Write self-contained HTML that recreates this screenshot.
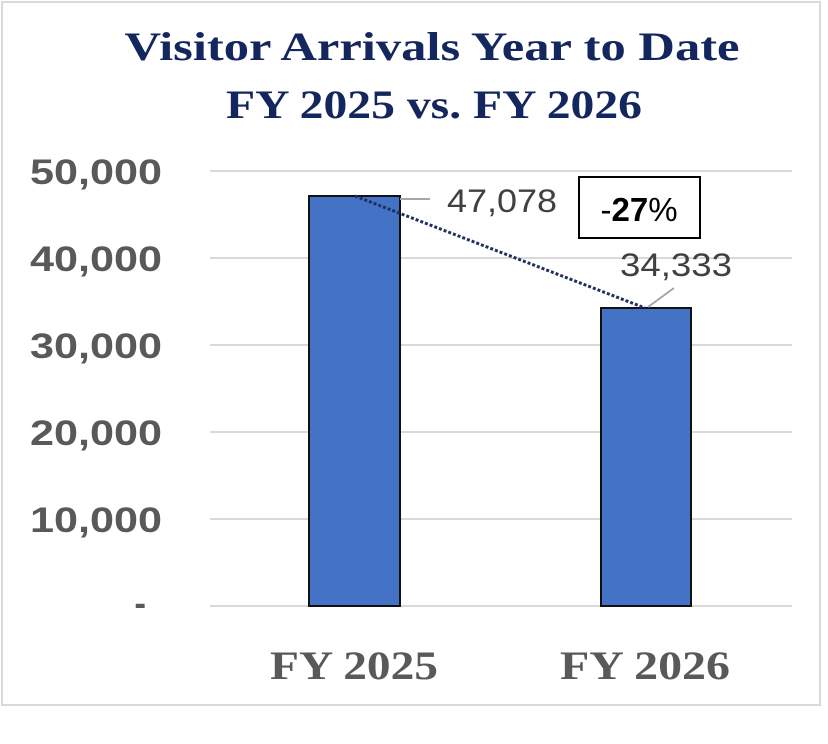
<!DOCTYPE html>
<html><head><style>
html,body{margin:0;padding:0;background:#fff;width:828px;height:744px;overflow:hidden}
</style></head><body>
<svg width="828" height="744" xmlns="http://www.w3.org/2000/svg">
<rect x="2" y="2" width="818" height="703" fill="#fff" stroke="#d9d9d9" stroke-width="2"/>
<text x="432" y="60" text-anchor="middle" font-family="Liberation Serif, serif" font-weight="bold" font-size="40" fill="#14265e" textLength="615" lengthAdjust="spacingAndGlyphs">Visitor Arrivals Year to Date</text>
<text x="434" y="118" text-anchor="middle" font-family="Liberation Serif, serif" font-weight="bold" font-size="40" fill="#14265e" textLength="416" lengthAdjust="spacingAndGlyphs">FY 2025 vs. FY 2026</text>
<g stroke="#d9d9d9" stroke-width="2">
<line x1="210" y1="171" x2="792" y2="171"/>
<line x1="210" y1="258" x2="792" y2="258"/>
<line x1="210" y1="345" x2="792" y2="345"/>
<line x1="210" y1="432" x2="792" y2="432"/>
<line x1="210" y1="519" x2="792" y2="519"/>
<line x1="210" y1="606" x2="792" y2="606"/>
</g>
<g font-family="Liberation Sans, sans-serif" font-weight="bold" font-size="35" fill="#595959" text-anchor="end">
<text x="162" y="184" textLength="132" lengthAdjust="spacingAndGlyphs">50,000</text>
<text x="162" y="271" textLength="132" lengthAdjust="spacingAndGlyphs">40,000</text>
<text x="162" y="358" textLength="132" lengthAdjust="spacingAndGlyphs">30,000</text>
<text x="162" y="445" textLength="132" lengthAdjust="spacingAndGlyphs">20,000</text>
<text x="162" y="532" textLength="132" lengthAdjust="spacingAndGlyphs">10,000</text>
<text x="146" y="615">-</text>
</g>
<rect x="309" y="196" width="91" height="410" fill="#4472c4" stroke="#111" stroke-width="2"/>
<rect x="601" y="308" width="90" height="298" fill="#4472c4" stroke="#111" stroke-width="2"/>
<line x1="355" y1="196" x2="645" y2="308" stroke="#1f2f5e" stroke-width="3" stroke-dasharray="3,2"/>
<line x1="400" y1="199" x2="430" y2="199" stroke="#a6a6a6" stroke-width="2"/>
<line x1="648" y1="307" x2="674" y2="288" stroke="#a6a6a6" stroke-width="2"/>
<g font-family="Liberation Sans, sans-serif" font-size="32" fill="#404040">
<text x="447" y="212" textLength="110" lengthAdjust="spacingAndGlyphs">47,078</text>
<text x="620" y="276" textLength="112" lengthAdjust="spacingAndGlyphs">34,333</text>
</g>
<rect x="579" y="177" width="121" height="61" fill="#fff" stroke="#000" stroke-width="2"/>
<text x="639" y="221" text-anchor="middle" font-family="Liberation Sans, sans-serif" font-size="33" fill="#000">-<tspan font-weight="bold">27</tspan>%</text>
<g font-family="Liberation Serif, serif" font-weight="bold" font-size="40" fill="#595959" text-anchor="middle">
<text x="354" y="679" textLength="168" lengthAdjust="spacingAndGlyphs">FY 2025</text>
<text x="645" y="679" textLength="170" lengthAdjust="spacingAndGlyphs">FY 2026</text>
</g>
</svg>
</body></html>
